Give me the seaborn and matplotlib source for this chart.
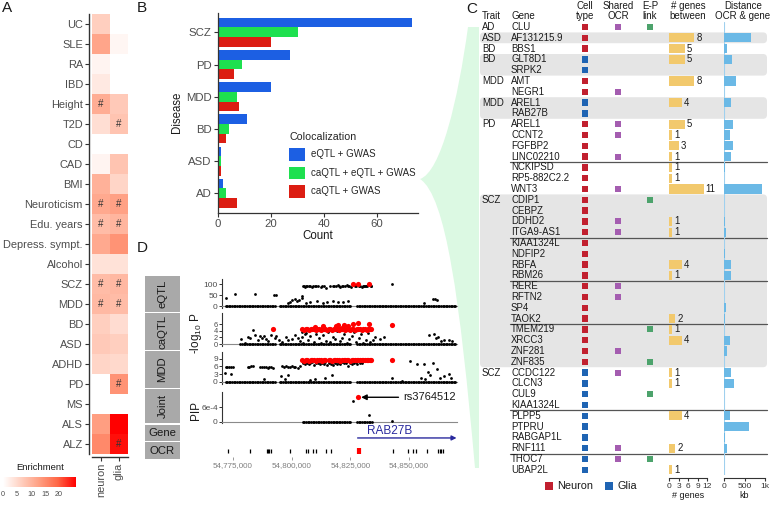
import numpy as np
import pandas as pd
import matplotlib
matplotlib.use("Agg")
import matplotlib.pyplot as plt
import seaborn as sns
from matplotlib.colors import LinearSegmentedColormap, Normalize
from matplotlib.cm import ScalarMappable
from matplotlib.patches import Rectangle, FancyBboxPatch, PathPatch
from matplotlib.path import Path
from matplotlib.ticker import FuncFormatter

# ---------------- data: panel A (enrichment heatmap) ----------------
traits = ["UC", "SLE", "RA", "IBD", "Height", "T2D", "CD", "CAD", "BMI",
          "Neuroticism", "Edu. years", "Depress. sympt.", "Alcohol", "SCZ",
          "MDD", "BD", "ASD", "ADHD", "PD", "MS", "ALS", "ALZ"]
nan = np.nan
enrich_neuron = [6.5, 12, 1.5, 3, 11, 4.5, nan, 1.5, 10.5, 11.5, 9, 11.5,
                 4, 9, 9.5, 6.5, 7.3, 5.7, nan, nan, 13, 15.5]
enrich_glia = [nan, 1.3, nan, nan, 7.3, 8, nan, 8, 5.7, 12.5, 10, 14.3,
               4, 9.6, 9, 4.7, 6.5, 5.2, 14.3, nan, 26, 25]
signif_neuron = ["Height", "Neuroticism", "Edu. years", "SCZ", "MDD"]
signif_glia = ["T2D", "Neuroticism", "Edu. years", "SCZ", "MDD", "PD", "ALZ"]

# ---------------- data: panel B (colocalization counts) ----------------
diseases = ["SCZ", "PD", "MDD", "BD", "ASD", "AD"]
coloc_types = ["eQTL + GWAS", "caQTL + eQTL + GWAS", "caQTL + GWAS"]
count_eqtl = [73, 27, 20, 11, 1, 2]
count_ca_eqtl = [30, 9, 7, 4, 1, 3]
count_caqtl = [20, 6, 8, 3, 1, 7]

# ---------------- data: panel C (gene table) ----------------
c_genes = ["CLU", "AF131215.9", "BBS1", "GLT8D1", "SRPK2", "AMT", "NEGR1",
           "AREL1", "RAB27B", "AREL1", "CCNT2", "FGFBP2", "LINC02210",
           "NCKIPSD", "RP5-882C2.2", "WNT3", "CDIP1", "CEBPZ", "DDHD2",
           "ITGA9-AS1", "KIAA1324L", "NDFIP2", "RBFA", "RBM26", "RERE",
           "RFTN2", "SP4", "TAOK2", "TMEM219", "XRCC3", "ZNF281", "ZNF835",
           "CCDC122", "CLCN3", "CUL9", "KIAA1324L", "PLPP5", "PTPRU",
           "RABGAP1L", "RNF111", "THOC7", "UBAP2L"]
c_traits = ["AD", "ASD", "BD", "BD", "", "MDD", "", "MDD", "", "PD", "", "",
            "", "", "", "", "SCZ", "", "", "", "", "", "", "", "", "", "",
            "", "", "", "", "", "SCZ", "", "", "", "", "", "", "", "", ""]
c_cell = list("NNNGGNNGGNNNNNNNNNNNNNNNNNNNNNNNGGGGGGGGGG")
c_shared_ocr = [0, 6, 9, 10, 12, 15, 18, 19, 24, 25, 30, 32, 39, 40]
c_ep_link = [0, 16, 28, 31, 34, 40]
c_n_genes = [0, 8, 5, 5, 0, 8, 0, 4, 0, 5, 1, 3, 1, 1, 1, 11, 0, 0, 1, 1, 0,
             0, 4, 1, 0, 0, 0, 2, 1, 4, 0, 0, 1, 1, 0, 0, 4, 0, 0, 2, 0, 1]
c_dist_kb = [0, 670, 70, 200, 0, 290, 0, 170, 0, 220, 150, 220, 170, 15, 0,
             935, 0, 0, 25, 60, 0, 15, 180, 180, 5, 0, 60, 30, 5, 150, 80, 0,
             170, 240, 0, 8, 150, 620, 20, 70, 0, 8]
c_bands = [(1, 1), (3, 4), (7, 8), (16, 31)]
c_separators = [12, 19, 23, 27, 35, 39]

# ---------------- data: panel D (locus, kb offset from 54,700,000) ----------------
snp_kb = [71.8, 72.5, 73.3, 73.9, 74.6, 75.4, 76.0, 76.8, 77.4, 78.1, 78.9,
          79.5, 80.2, 81.0, 81.6, 82.3, 83.1, 83.7, 84.4, 85.2, 85.8, 86.5,
          87.3, 87.9, 88.6, 89.4, 90.0, 90.7, 91.5, 92.1, 92.8, 94.9, 95.6,
          96.4, 97.0, 97.7, 98.5, 99.1, 99.8, 100.6, 101.2, 101.9, 102.7,
          103.3, 104.0, 104.8, 105.4, 106.1, 106.9, 107.5, 108.2, 109.0,
          109.6, 110.3, 111.1, 111.7, 112.4, 113.2, 113.8, 114.5, 115.3,
          115.9, 116.6, 117.4, 118.0, 118.7, 119.5, 120.1, 120.8, 121.6,
          122.2, 122.9, 123.7, 124.3, 125.0, 127.8, 128.6, 129.2, 129.9,
          130.7, 131.3, 132.0, 132.8, 133.4, 134.1, 134.9, 135.5, 136.2,
          137.0, 137.6, 138.3, 139.1, 139.7, 140.4, 141.2, 141.8, 142.5,
          143.3, 143.9, 144.6, 145.4, 146.0, 146.7, 147.5, 148.1, 148.8,
          149.6, 150.2, 150.9, 151.7, 152.3, 153.0, 153.8, 154.4, 155.1,
          155.9, 156.5, 157.2, 158.0, 158.6, 159.3, 160.1, 160.7, 161.4,
          162.2, 162.8, 163.5, 164.3, 164.9, 165.6, 166.4, 167.0, 167.7,
          168.5, 169.1, 169.8]
eqtl_pts = [(71.9, 38), (75.9, 55), (84.4, 55), (92.4, 52), (93.2, 52),
            (98.4, 15), (99.3, 20), (100.3, 26), (101.4, 30), (102.3, 24),
            (103.3, 28), (104.2, 35), (104.6, 45), (105.0, 90), (105.8, 88),
            (106.7, 92), (107.5, 90), (108.5, 88), (109.8, 93), (111.0, 90),
            (112.6, 88), (113.6, 91), (114.7, 84), (116.3, 90), (117.6, 92),
            (118.8, 89), (119.8, 95), (120.7, 88), (121.6, 92), (122.6, 90),
            (123.5, 94), (124.5, 90), (125.2, 87), (126.8, 90), (127.6, 93),
            (129.0, 90), (129.9, 88), (130.7, 92), (131.6, 90), (132.3, 91),
            (134.0, 90), (142.7, 100), (106.3, 12), (107.8, 20), (110.8, 22),
            (113.5, 15), (115.0, 18), (117.6, 22), (119.7, 20), (121.9, 18),
            (124.0, 22), (156.4, 15), (160.2, 30), (161.1, 32), (161.9, 28),
            (105.4, 91), (106.2, 89), (108.0, 91), (109.2, 90), (110.4, 89),
            (113.0, 90), (118.2, 91), (120.2, 90), (122.0, 89), (124.0, 91),
            (128.8, 91), (130.2, 90), (131.2, 89), (133.6, 91)]
eqtl_lead = [(126.0, 100), (128.1, 101), (133.0, 100)]
caqtl_pts = [(83.5, 4.3), (78.6, 1.5), (80.0, 0.4), (81.4, 2.0), (82.2, 1.8),
             (84.5, 2.6), (85.5, 1.2), (86.4, 2.5), (87.4, 1.9), (88.2, 2.3),
             (89.0, 1.5), (90.0, 0.8), (91.0, 2.8), (92.8, 1.9), (93.5, 2.4),
             (94.5, 1.1), (96.0, 0.5), (97.5, 2.0), (98.4, 1.2), (100.0, 1.6),
             (101.2, 2.7), (102.5, 1.8), (103.5, 0.9), (104.2, 2.2),
             (104.5, 3.6), (105.5, 2.9), (105.0, 0.3), (106.0, 3.4),
             (107.0, 1.2), (108.0, 2.3), (109.5, 0.6), (110.5, 3.1),
             (111.5, 1.8), (112.5, 0.4), (113.5, 2.6), (114.5, 1.0),
             (115.5, 3.7), (116.5, 0.5), (117.5, 2.1), (118.5, 1.4),
             (119.5, 3.9), (120.5, 0.8), (121.5, 1.9), (122.5, 3.0),
             (123.5, 0.2), (124.5, 1.5), (125.5, 2.4), (126.5, 3.5),
             (127.5, 0.7), (128.5, 1.7), (129.5, 2.9), (130.5, 0.4),
             (131.5, 1.1), (132.5, 3.3), (133.5, 0.6), (134.5, 1.3),
             (135.5, 2.0), (137.5, 1.5), (139.5, 2.2), (158.5, 2.7),
             (160.5, 2.9), (161.5, 1.8), (162.5, 2.2), (163.5, 1.0),
             (165.0, 1.3), (167.0, 1.2), (168.5, 0.8)]
caqtl_lead = [(92.0, 4.6), (104.6, 4.5), (105.3, 4.4), (106.0, 4.6),
              (106.7, 4.5), (107.4, 4.3), (108.1, 4.6), (108.8, 4.5),
              (109.5, 4.7), (110.2, 4.4), (110.9, 4.5), (111.6, 4.6),
              (112.3, 4.4), (113.0, 4.5), (113.7, 4.6), (114.4, 4.5),
              (115.1, 4.3), (115.8, 4.5), (116.5, 4.6), (117.2, 4.4),
              (117.9, 4.5), (118.6, 4.7), (119.3, 4.5), (120.0, 4.4),
              (120.7, 4.6), (121.4, 4.5), (122.1, 4.5), (122.8, 4.4),
              (123.5, 4.6), (124.2, 4.5), (124.9, 4.3), (125.6, 4.6),
              (126.3, 4.5), (127.0, 4.4), (127.7, 4.6), (128.4, 4.5),
              (129.1, 4.5), (129.8, 4.4), (130.5, 4.6), (131.2, 4.5),
              (131.9, 4.4), (132.6, 4.6), (133.3, 4.5), (134.0, 4.5),
              (110.0, 5.2), (113.2, 5.5), (118.9, 5.6), (119.8, 5.7),
              (121.4, 5.0), (122.5, 5.8), (124.0, 5.5), (126.0, 6.0),
              (128.1, 6.5), (133.0, 6.0), (142.7, 5.8)]
mdd_pts = [(71.8, 5.6), (72.5, 5.8), (73.3, 5.9), (74.1, 5.7), (75.0, 5.8),
           (71.6, 3.6), (74.0, 2.9), (81.2, 5.6), (82.0, 5.9), (82.8, 6.0),
           (83.5, 6.2), (86.5, 5.6), (87.3, 5.7), (88.1, 5.8), (88.9, 5.6),
           (89.7, 5.5), (90.5, 5.9), (91.3, 5.7), (92.0, 5.4), (96.0, 6.1),
           (96.8, 5.9), (97.6, 6.0), (98.4, 5.7), (99.2, 5.8), (100.0, 6.2),
           (100.8, 5.6), (101.6, 5.9), (102.5, 5.5), (103.5, 6.3),
           (104.8, 7.3), (105.6, 7.0), (106.4, 7.4), (107.2, 6.8),
           (108.0, 7.2), (108.8, 7.5), (109.6, 6.6), (110.4, 7.1),
           (111.2, 7.4), (112.0, 6.9), (112.8, 7.3), (113.6, 7.0),
           (114.4, 7.6), (115.2, 6.4), (116.0, 7.2), (116.8, 7.0),
           (117.6, 6.6), (118.4, 7.4), (119.2, 7.0), (120.0, 7.3),
           (120.8, 6.8), (121.6, 7.5), (122.4, 7.1), (123.2, 7.2),
           (124.0, 6.2), (124.8, 7.4), (125.6, 7.0), (126.4, 7.3),
           (127.2, 7.5), (128.0, 6.9), (129.0, 7.3), (130.0, 7.1),
           (88.0, 1.3), (95.5, 2.1), (97.0, 1.1), (98.5, 2.6), (108.0, 0.9),
           (110.0, 1.3), (114.0, 1.4), (117.0, 2.6), (142.7, 1.5),
           (147.0, 0.5), (150.4, 8.0), (153.4, 7.0), (156.4, 6.8),
           (160.2, 7.1), (162.0, 5.0), (167.0, 3.0), (158.0, 3.8),
           (159.0, 2.6), (155.0, 1.5), (157.0, 1.2), (163.0, 1.6),
           (165.0, 2.2), (168.0, 1.4)]
mdd_lead = [(104.6, 8.3), (105.3, 8.2), (106.0, 8.4), (106.7, 8.3),
            (107.4, 8.2), (108.1, 8.4), (108.8, 8.3), (109.5, 8.5),
            (110.2, 8.2), (110.9, 8.3), (111.6, 8.4), (112.3, 8.3),
            (113.0, 8.2), (113.7, 8.4), (114.4, 8.3), (115.8, 8.3),
            (116.5, 8.4), (117.2, 8.2), (117.9, 8.5), (118.6, 8.3),
            (119.3, 8.4), (120.0, 8.3), (120.7, 8.2), (121.4, 8.4),
            (122.1, 8.5), (122.8, 8.3), (123.5, 8.4), (124.2, 8.3),
            (124.9, 8.2), (125.6, 8.4), (126.3, 8.5), (127.0, 8.3),
            (127.7, 8.4), (128.4, 8.6), (129.1, 8.3), (129.8, 8.4),
            (130.5, 8.3), (131.2, 8.4), (131.9, 8.5), (132.6, 8.3),
            (133.3, 8.4), (134.0, 8.3), (142.7, 8.4)]
joint_pts = [(126.0, 8.7e-4), (133.0, 2.6e-4), (142.7, 0.4e-4)]
joint_lead = [(128.1, 10.2e-4)]
track_span = {"eQTL": (71.5, 170), "caQTL": (78, 170), "MDD": (71.5, 170),
              "Joint": (104.5, 134.2)}
ocr_kb = [72.9, 82.2, 89.4, 89.9, 90.4, 91.0, 99.3, 106.1, 107.1, 109.0,
          110.3, 114.6, 116.6, 143.3, 149.7, 151.8, 153.0, 157.8, 162.5,
          163.2, 163.8, 164.4]
ocr_lead_kb = [128.7]
gene_start_kb = 128.1
lead_snp = "rs3764512"

# ---------------- style ----------------
W, H = 770, 507
sns.set_theme(style="white")
plt.rcParams["font.family"] = ["Liberation Sans", "DejaVu Sans"]
plt.rcParams["mathtext.default"] = "regular"
TXT = "#1a1a1a"
GRAY = "#4d4d4d"
enrich_cmap = LinearSegmentedColormap.from_list(
    "enrich", [(0, "#ffffff"), (0.25, "#ffcfbf"), (0.5, "#ff9e81"),
               (0.75, "#ff6746"), (1, "#ff0000")])
coloc_colors = ["#1c5fe3", "#1ee04f", "#dc1d12"]
cell_colors = {"N": "#c1202f", "G": "#1f64b3"}


def rect(left, top, width, height):
    return [left / W, 1 - (top + height) / H, width / W, height / H]


fig = plt.figure(figsize=(W / 100, H / 100), dpi=100)
canvas = fig.add_axes([0, 0, 1, 1])
canvas.set_xlim(0, W)
canvas.set_ylim(H, 0)
canvas.axis("off")

# panel letters
for letter, x, y in [("A", 7, 8), ("B", 142, 8), ("C", 472, 9), ("D", 142, 248)]:
    canvas.text(x, y, letter, fontsize=11, ha="center", va="center", color=TXT)

# ---------------- panel A ----------------
hm = pd.DataFrame({"neuron": enrich_neuron, "glia": enrich_glia}, index=traits)
marks = pd.DataFrame({"neuron": ["#" if t in signif_neuron else "" for t in traits],
                      "glia": ["#" if t in signif_glia else "" for t in traits]},
                     index=traits)
axA = fig.add_axes(rect(92, 14, 36, 440))
sns.heatmap(hm, ax=axA, cmap=enrich_cmap, vmin=0, vmax=26, cbar=False,
            annot=marks, fmt="", annot_kws={"fontsize": 7, "color": "#333333"},
            xticklabels=True, yticklabels=True)
axA.patch.set_visible(False)
for side in ["left", "bottom"]:
    axA.spines[side].set_visible(True)
    axA.spines[side].set_color("#333333")
    axA.spines[side].set_linewidth(1)
    axA.spines[side].set_position(("outward", 2))
axA.tick_params(axis="both", left=True, bottom=True, length=3, width=0.8,
                color="#333333", labelsize=7.9, labelcolor=GRAY, pad=1.5)
axA.tick_params(axis="y", rotation=0)
axA.tick_params(axis="x", rotation=90)
axA.set_xlabel("")
axA.set_ylabel("")

axCb = fig.add_axes(rect(3, 477, 73, 10))
cb = fig.colorbar(ScalarMappable(norm=Normalize(0, 26), cmap=enrich_cmap),
                  cax=axCb, orientation="horizontal")
cb.set_ticks([0, 5, 10, 15, 20])
cb.outline.set_visible(False)
axCb.tick_params(direction="in", color="white", length=2.5, width=0.8,
                 labelsize=5.2, labelcolor=GRAY, pad=3, bottom=True, top=True)
canvas.text(40, 468, "Enrichment", fontsize=6.8, ha="center", va="center", color=TXT)

# ---------------- panel B ----------------
df_b = pd.DataFrame({
    "Disease": diseases * 3,
    "Count": count_eqtl + count_ca_eqtl + count_caqtl,
    "Colocalization": [c for c in coloc_types for _ in diseases],
})
axB = fig.add_axes(rect(218, 13, 200, 199.6))
sns.barplot(data=df_b, y="Disease", x="Count", hue="Colocalization",
            order=diseases, hue_order=coloc_types, palette=coloc_colors,
            orient="h", width=0.9, saturation=1, linewidth=0, ax=axB)
axB.patch.set_visible(False)
axB.set_xlim(0, 75.4)
axB.set_ylim(5.6, -0.6)
axB.set_xticks([0, 20, 40, 60])
for side in ["top", "right"]:
    axB.spines[side].set_visible(False)
for side in ["left", "bottom"]:
    axB.spines[side].set_color("#333333")
    axB.spines[side].set_linewidth(0.9)
axB.tick_params(axis="both", left=True, bottom=True, length=3, width=0.8,
                color="#333333", labelsize=8.2, labelcolor=GRAY, pad=1.5)
axB.set_xlabel("Count", fontsize=8.3, color=TXT, labelpad=1)
axB.set_ylabel("Disease", fontsize=8.3, color=TXT, labelpad=2)
handles, labels = axB.get_legend_handles_labels()
axB.legend(handles, labels, title="Colocalization", frameon=False,
           loc="upper left", bbox_to_anchor=(289 / W, 1 - 132 / H),
           bbox_transform=fig.transFigure, fontsize=7, title_fontsize=7.7,
           handlelength=1.6, handleheight=1.6, handletextpad=0.65,
           labelspacing=0.62, borderpad=0, borderaxespad=0, alignment="left")

# ---------------- connector wedge ----------------
wedge = Path([(420, 179), (441, 172), (458, 100), (468, 27), (479, 27),
              (479, 468), (475, 468), (460, 300), (446, 196), (420, 179)],
             [Path.MOVETO, Path.CURVE4, Path.CURVE4, Path.CURVE4, Path.LINETO,
              Path.LINETO, Path.LINETO, Path.CURVE4, Path.CURVE4, Path.CURVE4])
canvas.add_patch(PathPatch(wedge, facecolor="#dcf9e3", edgecolor="none", zorder=0))

# ---------------- panel C ----------------
ROW0, DY = 27.0, 10.8
n_rows = len(c_genes)
row_y = [ROW0 + i * DY for i in range(n_rows)]

for r0, r1 in c_bands:
    canvas.add_patch(FancyBboxPatch((480, row_y[r0] - DY / 2), 287, (r1 - r0 + 1) * DY,
                                    boxstyle="round,pad=0,rounding_size=4",
                                    facecolor="#e5e5e5", edgecolor="none", zorder=1))
for r in c_separators:
    canvas.plot([510, 767], [row_y[r] + DY / 2] * 2, color="#555555", lw=0.9, zorder=2)

for i in range(n_rows):
    canvas.text(482, row_y[i], c_traits[i], fontsize=6.9, va="center", color=TXT, zorder=3)
    canvas.text(511, row_y[i], c_genes[i], fontsize=6.9, va="center", color=TXT, zorder=3)

canvas.scatter([585] * n_rows, row_y, marker="s", s=22, linewidths=0,
               c=[cell_colors[c] for c in c_cell], zorder=3)
canvas.scatter([618] * len(c_shared_ocr), [row_y[i] for i in c_shared_ocr],
               marker="s", s=22, linewidths=0, color="#a45db0", zorder=3)
canvas.scatter([650] * len(c_ep_link), [row_y[i] for i in c_ep_link],
               marker="s", s=22, linewidths=0, color="#4da36c", zorder=3)

header_kw = dict(fontsize=7, ha="center", va="center", color=TXT, linespacing=0.95)
canvas.text(482, 16, "Trait", fontsize=7, ha="left", va="center", color=TXT)
canvas.text(511, 16, "Gene", fontsize=7, ha="left", va="center", color=TXT)
canvas.text(585, 11, "Cell\ntype", **header_kw)
canvas.text(618, 11, "Shared\nOCR", **header_kw)
canvas.text(650, 11, "E-P\nlink", **header_kw)
canvas.text(688, 11, "# genes\nbetween", **header_kw)
canvas.text(743, 11, "Distance\nOCR & gene", **header_kw)

table_top = ROW0 - DY / 2
table_h = n_rows * DY
axG = fig.add_axes(rect(669, table_top, 38, table_h))
sns.barplot(x=c_n_genes, y=list(range(n_rows)), orient="h", color="#f2c96d",
            width=0.86, saturation=1, linewidth=0, ax=axG)
for i, v in enumerate(c_n_genes):
    if v > 0:
        axG.text(v + 0.6, i, str(v), va="center", ha="left", fontsize=6.9, color=TXT)
axG.set_xlim(0, 12)
axG.set_xticks([0, 3, 6, 9, 12])
axG.set_xlabel("# genes", fontsize=6.5, color=TXT, labelpad=1)

axDist = fig.add_axes(rect(724, table_top, 41, table_h))
axDist.axvline(0, color="#9fd0ee", lw=0.8, zorder=0)
sns.barplot(x=c_dist_kb, y=list(range(n_rows)), orient="h", color="#6bb9e6",
            width=0.86, saturation=1, linewidth=0, ax=axDist)
axDist.set_xlim(0, 1000)
axDist.set_xticks([0, 500, 1000])
axDist.set_xticklabels(["0", "500", "1k"])
axDist.set_xlabel("kb", fontsize=6.5, color=TXT, labelpad=1)

for ax in (axG, axDist):
    ax.patch.set_visible(False)
    ax.set_ylim(n_rows - 0.5, -0.5)
    ax.set_yticks([])
    ax.set_ylabel("")
    for side in ["top", "right", "left"]:
        ax.spines[side].set_visible(False)
    ax.spines["bottom"].set_color("#333333")
    ax.spines["bottom"].set_linewidth(0.8)
    ax.spines["bottom"].set_position(("outward", 2))
    ax.tick_params(axis="x", bottom=True, length=2.5, width=0.8, color="#333333",
                   labelsize=6, labelcolor="#333333", pad=1)

canvas.scatter([549, 609], [486, 486], marker="s", s=26, linewidths=0,
               c=[cell_colors["N"], cell_colors["G"]])
canvas.text(557, 486, "Neuron", fontsize=7.8, va="center", color=TXT)
canvas.text(618, 486, "Glia", fontsize=7.8, va="center", color=TXT)

# ---------------- panel D ----------------
XLIM = (70.3, 170.45)
strips = [("eQTL", 276, 312, 90), ("caQTL", 313, 350, 90), ("MDD", 351, 388, 90),
          ("Joint", 389, 423, 90), ("Gene", 425, 441, 0), ("OCR", 442, 459, 0)]
for name, top, bot, rot in strips:
    canvas.add_patch(Rectangle((145, top), 35, bot - top, facecolor="#a9a9a9",
                               edgecolor="none"))
    canvas.text(162.5, (top + bot) / 2, name, rotation=rot, fontsize=8.2,
                ha="center", va="center", color=TXT)

track_cfg = [
    ("eQTL", 279, 29, eqtl_pts, eqtl_lead, (-9, 123), [0, 50, 100], ["0", "50", "100"]),
    ("caQTL", 313, 33, caqtl_pts, caqtl_lead, (-0.6, 9.4), [0, 2, 4, 6], ["0", "2", "4", "6"]),
    ("MDD", 352, 32, mdd_pts, mdd_lead, (-0.8, 11.5), [0, 3, 6, 9], ["0", "3", "6", "9"]),
    ("Joint", 392, 31, joint_pts, joint_lead, (-0.54e-4, 12.4e-4), [0, 6e-4], ["0", "6e-4"]),
]
track_axes = {}
for name, top, h, pts, lead, ylim, yt, ytl in track_cfg:
    ax = fig.add_axes(rect(222, top, 235, h))
    ax.patch.set_visible(False)
    lo, hi = track_span[name]
    base = [k for k in snp_kb if lo <= k <= hi]
    sns.scatterplot(x=base, y=[0] * len(base), color="black", s=4, linewidth=0,
                    ax=ax, legend=False, zorder=3)
    sns.scatterplot(x=[p[0] for p in pts], y=[p[1] for p in pts], color="black",
                    s=4, linewidth=0, ax=ax, legend=False, zorder=3)
    sns.scatterplot(x=[p[0] for p in lead], y=[p[1] for p in lead], color="#ff0000",
                    s=14, linewidth=0, ax=ax, legend=False, zorder=4)
    ax.set_xlim(*XLIM)
    ax.set_ylim(*ylim)
    ax.set_yticks(yt)
    ax.set_yticklabels(ytl)
    ax.set_xticks([])
    ax.set_xlabel("")
    ax.set_ylabel("")
    for side in ["top", "right"]:
        ax.spines[side].set_visible(False)
    ax.spines["left"].set_color("#333333")
    ax.spines["left"].set_linewidth(0.8)
    ax.spines["bottom"].set_position(("data", 0))
    ax.spines["bottom"].set_color("#8a8a8a")
    ax.spines["bottom"].set_linewidth(0.8)
    ax.tick_params(axis="y", left=True, length=2, width=0.7, color="#333333",
                   labelsize=6 if name != "caQTL" else 5.4, labelcolor=GRAY, pad=1)
    track_axes[name] = ax

track_axes["Joint"].annotate(
    lead_snp, xy=(129.6, joint_lead[0][1]), xytext=(147.5, joint_lead[0][1]),
    fontsize=8, va="center", ha="left", color=TXT,
    arrowprops=dict(arrowstyle="-|>", color="black", lw=1, mutation_scale=8,
                    shrinkA=1, shrinkB=0))

canvas.text(196, 333, "-log$_{10}$ P", rotation=90, fontsize=8.5, ha="center",
            va="center", color=TXT)
canvas.text(196, 410, "PIP", rotation=90, fontsize=8.5, ha="center",
            va="center", color=TXT)

axGene = fig.add_axes(rect(222, 425, 235, 16))
axGene.patch.set_visible(False)
axGene.set_xlim(*XLIM)
axGene.set_ylim(0, 1)
axGene.axis("off")
axGene.annotate("", xy=(XLIM[1] - 0.2, 0.19), xytext=(gene_start_kb, 0.19),
                arrowprops=dict(arrowstyle="-|>", color="#2a2a9e", lw=1,
                                mutation_scale=7, shrinkA=0, shrinkB=0))
axGene.text(141.9, 0.62, "RAB27B", fontsize=8.5, ha="center", va="center",
            color="#2a2a9e")

axOcr = fig.add_axes(rect(222, 442, 235, 15))
axOcr.patch.set_visible(False)
axOcr.set_xlim(*XLIM)
axOcr.set_ylim(0, 1)
axOcr.vlines(ocr_kb, 0.25, 0.55, color="black", lw=0.9)
axOcr.vlines(ocr_lead_kb, 0.22, 0.58, color="#ff0000", lw=3)
for side in ["top", "right", "left", "bottom"]:
    axOcr.spines[side].set_visible(False)
axOcr.set_yticks([])
axOcr.set_xticks([75, 100, 125, 150])
axOcr.xaxis.set_major_formatter(
    FuncFormatter(lambda v, _: f"{int(round((54700 + v) * 1000)):,}"))
axOcr.tick_params(axis="x", bottom=True, length=2, width=0.6, color="#8a8a8a",
                  labelsize=5.8, labelcolor="#7f7f7f", pad=1.5)

fig.savefig("out.png", dpi=100)
